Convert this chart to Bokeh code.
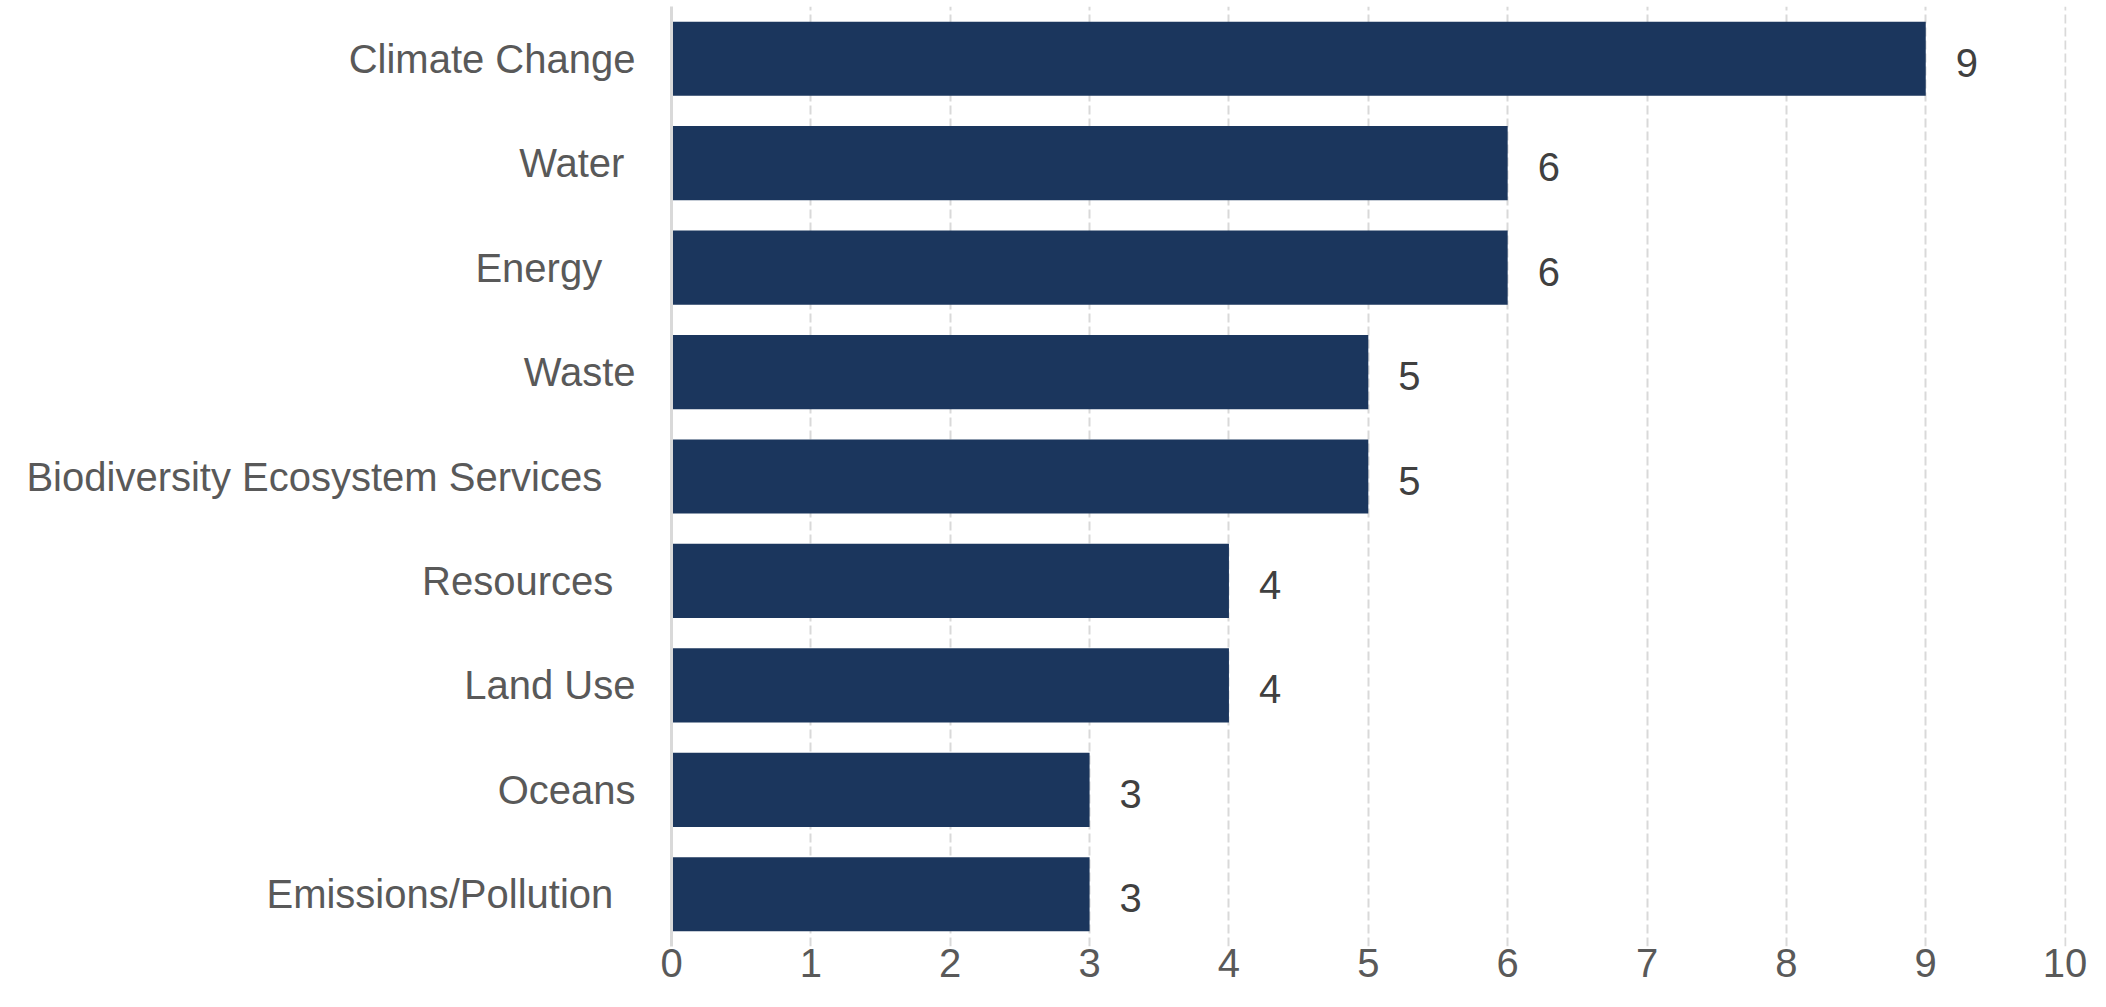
from bokeh.plotting import figure
from bokeh.models import Range1d, FactorRange, ColumnDataSource
from bokeh.embed import file_html
from bokeh.resources import INLINE
from bokeh.core.properties import value

categories = ["Climate Change", "Water ", "Energy   ", "Waste", "Biodiversity Ecosystem Services   ",
              "Resources  ", "Land Use", "Oceans", "Emissions/Pollution  "]
counts = [9, 6, 6, 5, 5, 4, 4, 3, 3]
x_ticks = [0, 1, 2, 3, 4, 5, 6, 7, 8, 9, 10]

FONT = "Liberation Sans"
BAR = "#1b365d"
FS = "40px"

src = ColumnDataSource(dict(cat=categories, val=counts, lab=[str(v) for v in counts]))

p = figure(width=2090, height=991, output_backend="svg", toolbar_location=None,
           y_range=FactorRange(*list(reversed(categories)), range_padding=0),
           x_range=Range1d(0, 10.01),
           min_border_left=671, min_border_top=6, min_border_right=24, min_border_bottom=45)
p.outline_line_color = None
p.background_fill_color = "white"
p.border_fill_color = "white"

p.hbar(y="cat", right="val", left=0, height=0.71, source=src, fill_color=BAR, line_color=None)
p.text(x="val", y="cat", text="lab", source=src, x_offset=30, y_offset=4,
       text_align="left", text_baseline="middle", text_color="#404040",
       text_font=value(FONT), text_font_size=FS)

p.xaxis.ticker = x_ticks
p.xaxis.axis_line_color = None
p.xaxis.major_tick_line_color = None
p.xaxis.minor_tick_line_color = None
p.xaxis.major_tick_out = 0
p.xaxis.major_tick_in = 0
p.xaxis.major_label_standoff = 2
p.xaxis.major_label_text_font = FONT
p.xaxis.major_label_text_font_size = FS
p.xaxis.major_label_text_color = "#595959"

p.yaxis.axis_line_color = "#d9d9d9"
p.yaxis.axis_line_width = 3
p.yaxis.major_tick_line_color = None
p.yaxis.minor_tick_line_color = None
p.yaxis.major_tick_out = 0
p.yaxis.major_tick_in = 0
p.yaxis.major_label_standoff = 36
p.yaxis.major_label_text_font = FONT
p.yaxis.major_label_text_font_size = FS
p.yaxis.major_label_text_color = "#595959"

p.ygrid.grid_line_color = None
p.xgrid.grid_line_color = "#d9d9d9"
p.xgrid.grid_line_width = 2
p.xgrid.grid_line_dash = "9 4"

open("out.html", "w").write(file_html(p, INLINE))
